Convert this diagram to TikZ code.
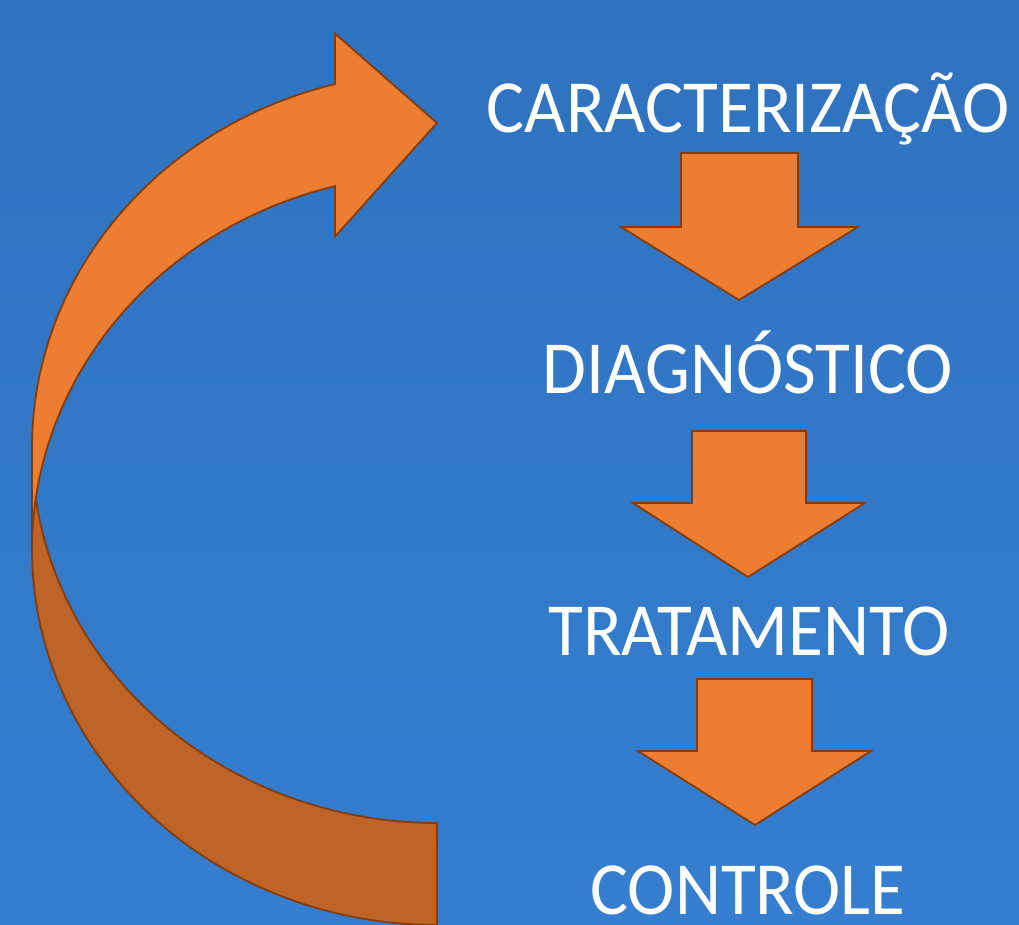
\documentclass[tikz,border=0pt]{standalone}
\usepackage{fontspec}
\usepackage{graphicx}
\setmainfont{Carlito}
\definecolor{bgtop}{RGB}{47,115,191}
\definecolor{bgbot}{RGB}{53,126,208}
\definecolor{orangeL}{RGB}{237,125,49}
\definecolor{orangeD}{RGB}{190,100,39}
\definecolor{edgebrown}{RGB}{132,60,12}
\newcommand{\narrowtxt}[1]{\scalebox{0.95}[1]{#1}}
\tikzset{
  steplabel/.style={text=white, font=\fontsize{75}{80}\selectfont, anchor=base, inner sep=0pt},
  blockarrow/.style={fill=orangeL, draw=edgebrown, line width=1.8pt, line join=miter},
  ell/.style={domain=#1, samples=90, variable=\t}
}
\begin{document}
\begin{tikzpicture}[x=1pt,y=-1pt]
\shade[top color=bgtop,bottom color=bgbot] (0,0) rectangle (1019,925);
\useasboundingbox (0,0) rectangle (1019,925);

% text nodes
\node[steplabel] (c1) at (748,133) {\narrowtxt{CARACTERIZAÇÃO}};
\node[steplabel] (c2) at (748,393) {\narrowtxt{DIAGNÓSTICO}};
\node[steplabel] (c3) at (749,655) {\narrowtxt{TRATAMENTO}};
\node[steplabel] (c4) at (748,914) {\narrowtxt{CONTROLE}};

% down block arrows
\draw[blockarrow] (681,153) -- (798,153) -- (798,227) -- (858,227) -- (739,300) -- (621,227) -- (681,227) -- cycle;
\draw[blockarrow] (692,431) -- (806,431) -- (806,503) -- (865,503) -- (748,577) -- (633,503) -- (692,503) -- cycle;
\draw[blockarrow] (697,679) -- (812,679) -- (812,751) -- (871,751) -- (755,825) -- (638,751) -- (697,751) -- cycle;

% curved arrow: front (light) part
\fill[orangeL] plot[ell=0:75.41] ({437-405*cos(\t)},{549.5-375.5*sin(\t)})
  -- (335,236.6) -- (437,123) -- (335,33.6) -- (335,84.1)
  -- plot[ell=75.41:0] ({437-405*cos(\t)},{447.5-375.5*sin(\t)}) -- cycle;
% back (dark) part
\fill[orangeD] plot[ell=-90:-7.806] ({437-405*cos(\t)},{447.5-375.5*sin(\t)})
  -- plot[ell=7.806:-90] ({437-405*cos(\t)},{549.5-375.5*sin(\t)}) -- cycle;
% outline
\draw[edgebrown, line width=1.8pt, line join=miter]
  plot[ell=0:75.41] ({437-405*cos(\t)},{549.5-375.5*sin(\t)})
  -- (335,236.6) -- (437,123) -- (335,33.6) -- (335,84.1)
  -- plot[ell=75.41:0] ({437-405*cos(\t)},{447.5-375.5*sin(\t)})
  -- plot[ell=0:-90] ({437-405*cos(\t)},{549.5-375.5*sin(\t)})
  -- (437,823)
  -- plot[ell=-90:-7.806] ({437-405*cos(\t)},{447.5-375.5*sin(\t)});
\end{tikzpicture}
\end{document}
